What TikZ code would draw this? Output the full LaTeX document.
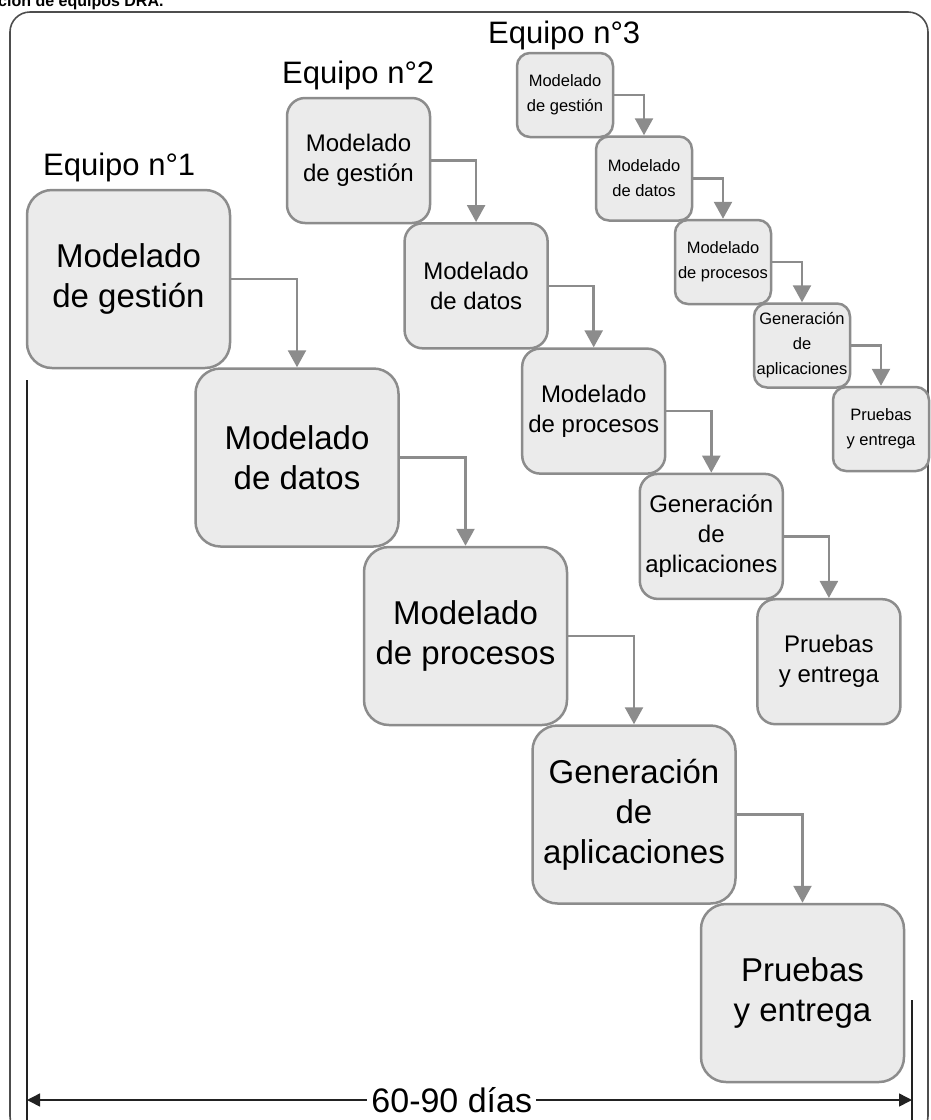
\documentclass[tikz,border=0pt]{standalone}
\usepackage{fontspec}
\setmainfont{Liberation Sans}
\usetikzlibrary{arrows.meta}

\definecolor{boxfill}{HTML}{EBEBEB}
\definecolor{boxline}{HTML}{8C8C8C}
\definecolor{flowgray}{HTML}{8C8C8C}
\definecolor{framegray}{HTML}{4D4D4D}
\definecolor{dimgray}{HTML}{222222}

\begin{document}
\begin{tikzpicture}[x=1pt,y=-1pt,
  box/.style={draw=boxline, fill=boxfill, line width=2.5pt, align=center,
    inner sep=0pt, anchor=center, text=black},
  bigbox/.style={box, minimum width=203pt, minimum height=178pt,
    rounded corners=25pt, font=\fontsize{33}{40}\selectfont},
  midbox/.style={box, minimum width=143pt, minimum height=125pt,
    rounded corners=18pt, font=\fontsize{24}{30}\selectfont},
  smallbox/.style={box, minimum width=96pt, minimum height=84pt,
    rounded corners=13pt, font=\fontsize{16.5}{25}\selectfont},
  flow/.style={draw=flowgray, line width=2.5pt,
    -{Triangle[length=17pt,width=18pt]}},
  team/.style={anchor=base west, inner sep=0pt, font=\fontsize{31}{37}\selectfont},
  dimline/.style={draw=dimgray, line width=1.5pt},
  dimarrow/.style={dimline, {Triangle[length=13pt,width=13pt]}-{Triangle[length=13pt,width=13pt]}},
  frame/.style={draw=framegray, line width=1.6pt, rounded corners=20pt}
]
\useasboundingbox (0,0) rectangle (930,1120);

% heading above the frame (only its lower edge falls on the page)
\node[anchor=base west, inner sep=0pt, font=\bfseries\fontsize{16}{19}\selectfont]
  (heading) at (-2,6) {ción de equipos DRA.};

% outer frame
\draw[frame] (10,12) rectangle (928,1136);

% team titles
\node[team] (t1) at (43,175) {Equipo n°1};
\node[team] (t2) at (282,83) {Equipo n°2};
\node[team] (t3) at (488,43) {Equipo n°3};

% team 1
\node[bigbox] (g1) at (128.5,279)   {Modelado\\de gestión};
\node[bigbox] (d1) at (297,457.5)   {Modelado\\de datos};
\node[bigbox] (p1) at (465.5,636)   {Modelado\\de procesos};
\node[bigbox] (a1) at (634,814.5)   {Generación\\de\\aplicaciones};
\node[bigbox] (e1) at (802.5,993)   {Pruebas\\y entrega};

% team 2
\node[midbox] (g2) at (358.5,160.5) {Modelado\\de gestión};
\node[midbox] (d2) at (476.1,285.8) {Modelado\\de datos};
\node[midbox] (p2) at (593.7,411.1) {Modelado\\de procesos};
\node[midbox] (a2) at (711.3,536.4) {Generación\\de\\aplicaciones};
\node[midbox] (e2) at (828.9,661.7) {Pruebas\\y entrega};

% team 3
\node[smallbox] (g3) at (565,95)     {Modelado\\de gestión};
\node[smallbox] (d3) at (644,178.5)  {Modelado\\de datos};
\node[smallbox] (p3) at (723,262)    {Modelado\\de procesos};
\node[smallbox] (a3) at (802,345.5)  {Generación\\de\\aplicaciones};
\node[smallbox] (e3) at (881,429)    {Pruebas\\y entrega};

% phase flow
\foreach \t in {1,2,3}{
  \draw[flow] (g\t.east) -| (d\t.north);
  \draw[flow] (d\t.east) -| (p\t.north);
  \draw[flow] (p\t.east) -| (a\t.north);
  \draw[flow] (a\t.east) -| (e\t.north);
}

% duration
\coordinate (dimLtop) at (27,380);
\coordinate (dimLbot) at (27,1125);
\coordinate (dimRtop) at (912,1000);
\coordinate (dimRbot) at (912,1125);
\coordinate (dimL) at (27,1100);
\coordinate (dimR) at (912,1100);
\draw[dimline] (dimLtop) -- (dimLbot);
\draw[dimline] (dimRtop) -- (dimRbot);
\draw[dimarrow] (dimL) -- node[pos=0.48, fill=white, inner xsep=4pt, inner ysep=2pt,
  font=\fontsize{34}{40}\selectfont] (span) {60-90 días} (dimR);
\end{tikzpicture}
\end{document}
